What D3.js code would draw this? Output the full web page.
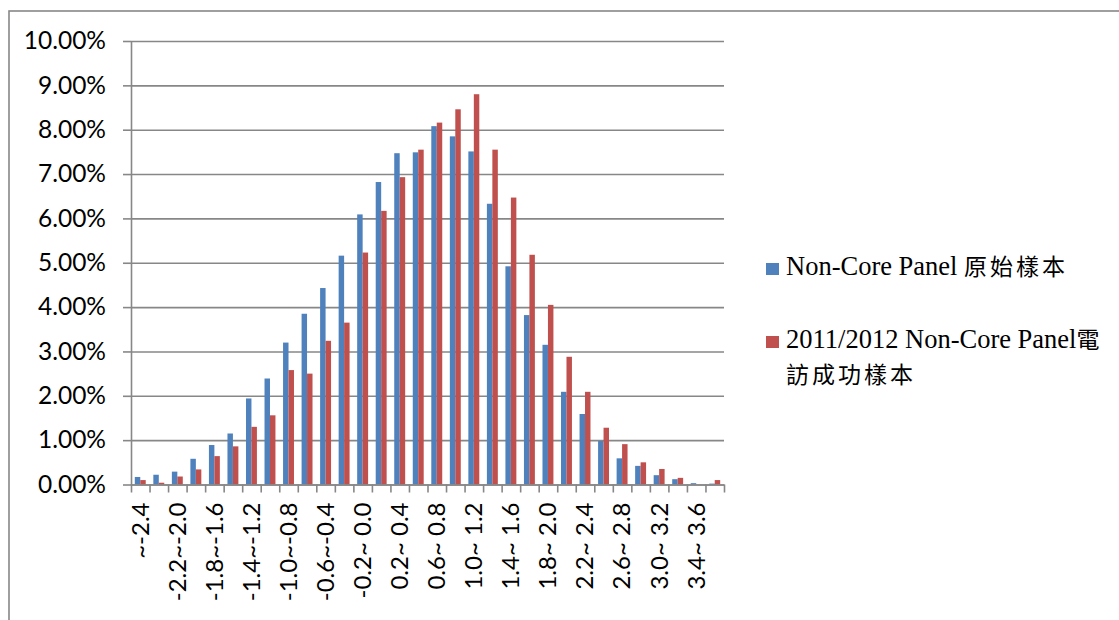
<!DOCTYPE html>
<html>
<head>
<meta charset="utf-8">
<script src="https://cdn.jsdelivr.net/npm/d3@7"></script>
<style>
  body { margin: 0; background: #fff; }
  svg { display: block; }
</style>
</head>
<body>
<div id="chart"></div>
<script>
// categories (0.2-wide score intervals)
const categories = [
    "~-2.4", "-2.4~-2.2", "-2.2~-2.0", "-2.0~-1.8", "-1.8~-1.6", "-1.6~-1.4", "-1.4~-1.2", "-1.2~-1.0",
    "-1.0~-0.8", "-0.8~-0.6", "-0.6~-0.4", "-0.4~-0.2", "-0.2~ 0.0", "0.0~ 0.2", "0.2~ 0.4", "0.4~ 0.6",
    "0.6~ 0.8", "0.8~ 1.0", "1.0~ 1.2", "1.2~ 1.4", "1.4~ 1.6", "1.6~ 1.8", "1.8~ 2.0", "2.0~ 2.2",
    "2.2~ 2.4", "2.4~ 2.6", "2.6~ 2.8", "2.8~ 3.0", "3.0~ 3.2", "3.2~ 3.4", "3.4~ 3.6", "3.6~"
];
const seriesNames = ["Non-Core Panel 原始樣本", "2011/2012 Non-Core Panel電訪成功樣本"];
const seriesColors = ["#4F81BD", "#C0504D"];

// percentages
const originalSample = [
    0.17, 0.22, 0.29, 0.58, 0.89, 1.15, 1.94, 2.39,
    3.20, 3.85, 4.43, 5.16, 6.09, 6.82, 7.47, 7.49,
    8.08, 7.85, 7.51, 6.33, 4.92, 3.82, 3.15, 2.09,
    1.59, 0.98, 0.59, 0.42, 0.21, 0.12, 0.03, 0.02
];
const phoneSample = [
    0.10, 0.04, 0.18, 0.34, 0.64, 0.86, 1.30, 1.56,
    2.58, 2.50, 3.24, 3.65, 5.23, 6.17, 6.93, 7.55,
    8.16, 8.46, 8.80, 7.55, 6.47, 5.18, 4.05, 2.88,
    2.09, 1.28, 0.91, 0.50, 0.35, 0.15, 0.00, 0.10
];
const yTicks = [0, 1, 2, 3, 4, 5, 6, 7, 8, 9, 10];

const W = 1119, H = 620;
const plot = { left: 131, right: 724, top: 41, bottom: 484.5 };
const gridColor = "#878787";
const labelFont = "Lato, 'Open Sans', sans-serif";

const svg = d3.select("#chart")
    .append("svg")
    .attr("width", W)
    .attr("height", H);

// outer frame (only top/left edges visible)
svg.append("rect")
    .attr("x", 9).attr("y", 11)
    .attr("width", 1400).attr("height", 900)
    .attr("fill", "none")
    .attr("stroke", gridColor)
    .attr("stroke-width", 1.6);

const x = d3.scaleBand()
    .domain(categories)
    .range([plot.left, plot.right])
    .paddingInner(0.41)
    .paddingOuter(0.205);

const x1 = d3.scaleBand()
    .domain([0, 1])
    .range([0, x.bandwidth()]);

const y = d3.scaleLinear()
    .domain([0, 10])
    .range([plot.bottom, plot.top]);

// gridlines
svg.append("g")
    .attr("transform", `translate(${plot.left},0)`)
    .call(d3.axisLeft(y).tickValues(yTicks).tickSize(-(plot.right - plot.left)).tickFormat(""))
    .call(g => g.select(".domain").remove())
    .selectAll("line")
    .attr("stroke", gridColor)
    .attr("stroke-width", 1.6);

// y axis with labels
const yAxis = svg.append("g")
    .attr("transform", `translate(${plot.left},0)`)
    .call(d3.axisLeft(y).tickValues(yTicks).tickSize(8).tickSizeOuter(0).tickPadding(17)
        .tickFormat(d => d.toFixed(2) + "%"));
yAxis.select(".domain").attr("stroke", gridColor).attr("stroke-width", 1.6);
yAxis.selectAll("line").attr("stroke", gridColor).attr("stroke-width", 1.6);
yAxis.selectAll("text")
    .attr("fill", "#000")
    .style("font-family", labelFont)
    .style("font-size", "24.5px");

// bars
const seriesData = [originalSample, phoneSample];
seriesData.forEach((vals, si) => {
    svg.append("g")
        .selectAll("rect")
        .data(vals)
        .join("rect")
        .attr("x", (d, i) => x(categories[i]) + x1(si))
        .attr("width", x1.bandwidth())
        .attr("y", d => y(d))
        .attr("height", d => y(0) - y(d))
        .attr("fill", seriesColors[si]);
});

// x axis line and boundary ticks
const xl = d3.scaleLinear().domain([0, categories.length]).range([plot.left, plot.right]);
const xAxis = svg.append("g")
    .attr("transform", `translate(0,${plot.bottom})`)
    .call(d3.axisBottom(xl).tickValues(d3.range(categories.length + 1)).tickSize(8).tickSizeOuter(0).tickFormat(""));
xAxis.select(".domain").attr("stroke", gridColor).attr("stroke-width", 1.6);
xAxis.selectAll("line").attr("stroke", gridColor).attr("stroke-width", 1.6);

// category labels (every other one shown, rotated)
const xLab = svg.append("g")
    .attr("transform", `translate(0,${plot.bottom})`)
    .call(d3.axisBottom(x).tickSize(0).tickFormat((d, i) => i % 2 === 0 ? d : ""));
xLab.select(".domain").remove();
xLab.selectAll("text")
    .attr("fill", "#000")
    .style("font-family", labelFont)
    .style("font-size", "24px")
    .style("white-space", "pre")
    .attr("text-anchor", "end")
    .attr("transform", "rotate(-90)")
    .attr("x", -18)
    .attr("y", 0)
    .attr("dy", "0.35em");

// legend: latin runs in a serif face, CJK runs spaced out a little
const legend = svg.append("g").attr("transform", "translate(766,0)");
const legendItems = [
    { lines: ["Non-Core Panel 原始樣本"], base: 275 },
    { lines: ["2011/2012 Non-Core Panel電", "訪成功樣本"], base: 348 }
];
const cjkRe = /([\u3400-\u9fff]+)/;
legendItems.forEach((item, i) => {
    legend.append("rect")
        .attr("x", 0).attr("y", item.base - 12)
        .attr("width", 13).attr("height", 12)
        .attr("fill", seriesColors[i]);
    item.lines.forEach((line, li) => {
        const t = legend.append("text")
            .attr("x", 20)
            .attr("y", item.base + li * 35)
            .attr("fill", "#000");
        line.split(cjkRe).filter(s => s.length).forEach(part => {
            const isCjk = cjkRe.test(part);
            t.append("tspan")
                .style("font-family", isCjk ? "'Noto Sans CJK TC', serif" : "'Liberation Serif', serif")
                .style("font-size", isCjk ? "23px" : "26.5px")
                .style("letter-spacing", isCjk ? "3px" : null)
                .text(part);
        });
    });
});
</script>
</body>
</html>
